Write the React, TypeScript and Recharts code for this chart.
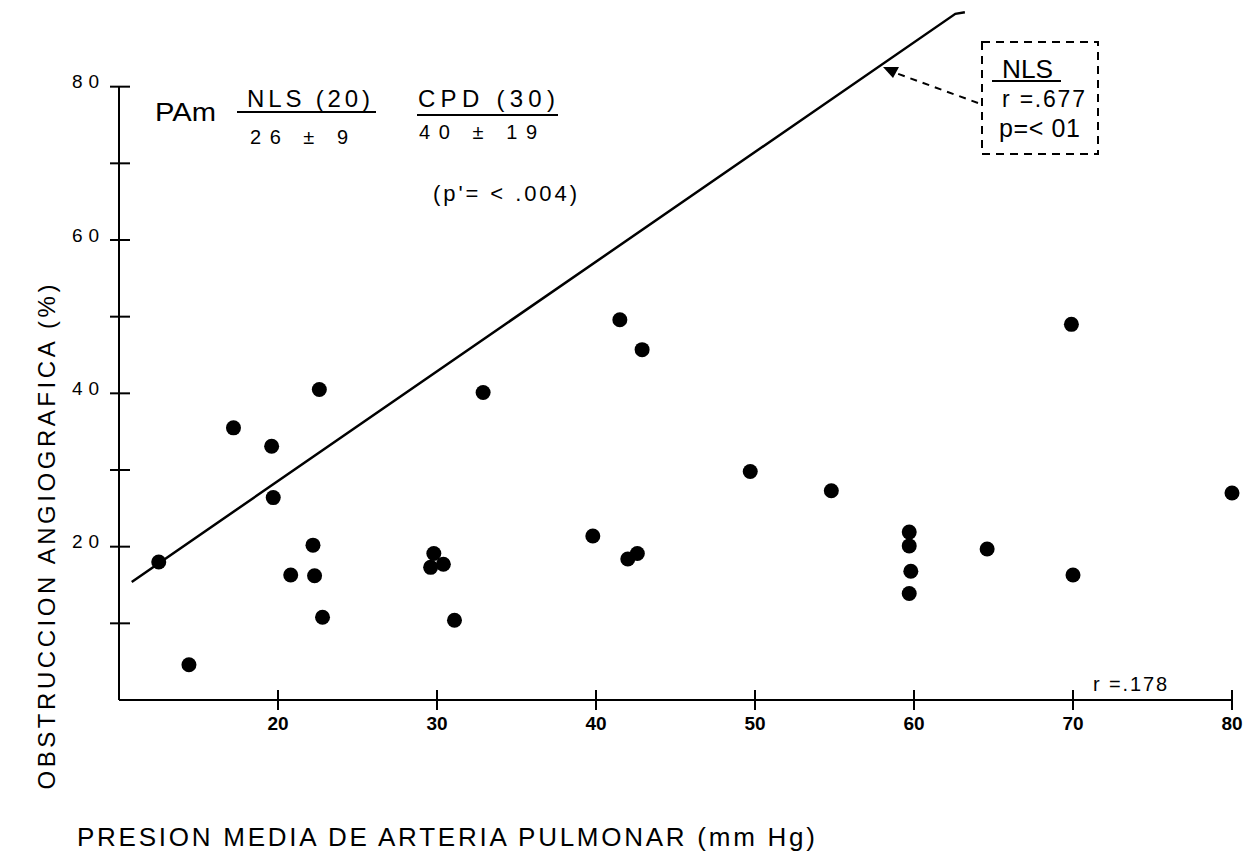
import React from 'react';
import { ComposedChart, Scatter, XAxis, YAxis, ReferenceLine } from 'recharts';

// mean pulmonary artery pressure (mm Hg) vs angiographic obstruction (%)
const pamX = [
  12.5, 14.4, 17.2, 19.6, 19.7, 20.8, 22.2, 22.3, 22.6, 22.8,
  29.8, 29.6, 30.4, 31.1, 32.9, 39.8, 41.5, 42.0, 42.6, 42.9,
  49.7, 54.8, 59.7, 59.7, 59.8, 59.7, 64.6, 69.9, 70.0, 80.0,
];
const obstrY = [
  18.0, 4.6, 35.5, 33.1, 26.4, 16.3, 20.2, 16.2, 40.5, 10.8,
  19.1, 17.3, 17.7, 10.4, 40.1, 21.4, 49.6, 18.4, 19.1, 45.7,
  29.8, 27.3, 21.9, 20.1, 16.8, 13.9, 19.7, 49.0, 16.3, 27.0,
];

// NLS regression line (hand drawn, with the small hook at its top)
const nlsLineX = [10.8, 62.6, 63.2];
const nlsLineY = [15.4, 89.5, 89.7];

const xTicks = [20, 30, 40, 50, 60, 70, 80];
const yTicks = [10, 20, 30, 40, 50, 60, 70, 80];
const yLabelled = [20, 40, 60, 80];

const FONT = "'Liberation Sans', Arial, sans-serif";

const points = pamX.map((x, i) => ({ x, y: obstrY[i] }));
const nlsLine = nlsLineX.map((x, i) => ({ x, y: nlsLineY[i] }));

const Dot = (props: any) => <circle cx={props.cx} cy={props.cy} r={7.5} fill="#000" />;

const YTick = (props: any) => {
  const { x, y, payload } = props;
  const v = payload.value;
  return (
    <g>
      <line x1={x - 9} x2={x + 11} y1={y} y2={y} stroke="#000" strokeWidth={2} />
      {yLabelled.includes(v) && (
        <text x={x - 47} y={y - 5} dominantBaseline="central" fontSize={19} textLength={27} lengthAdjust="spacing" fontFamily={FONT} fill="#000">
          {v}
        </text>
      )}
    </g>
  );
};

const XTick = (props: any) => {
  const { x, y, payload } = props;
  return (
    <g>
      <line x1={x} x2={x} y1={y - 10} y2={y + 10} stroke="#000" strokeWidth={2} />
      <text x={x} y={y + 30} textAnchor="middle" fontSize={19} fontWeight="bold" fontFamily={FONT} fill="#000">
        {payload.value}
      </text>
    </g>
  );
};

const Annotations = () => (
  <svg width={1243} height={862} style={{ position: 'absolute', left: 0, top: 0, pointerEvents: 'none' }} fontFamily={FONT} fill="#000">
    <text x={155} y={121} fontSize={25} textLength={61} lengthAdjust="spacingAndGlyphs">PAm</text>
    <text x={247} y={107} fontSize={24} textLength={123} lengthAdjust="spacing">NLS (20)</text>
    <line x1={237} x2={376} y1={112} y2={112} stroke="#000" strokeWidth={2} />
    <text x={250} y={144} fontSize={20} textLength={98} lengthAdjust="spacing">26 ± 9</text>
    <text x={418} y={107} fontSize={24} textLength={137} lengthAdjust="spacing">CPD (30)</text>
    <line x1={417} x2={558} y1={115} y2={115} stroke="#000" strokeWidth={2} />
    <text x={419} y={139} fontSize={20} textLength={118} lengthAdjust="spacing">40 ± 19</text>
    <text x={433} y={201} fontSize={22} textLength={144} lengthAdjust="spacing">(p'= &lt; .004)</text>

    <rect x={982} y={42} width={116} height={112} fill="none" stroke="#000" strokeWidth={2} strokeDasharray="8 6" />
    <text x={1002} y={78} fontSize={25} textLength={51} lengthAdjust="spacingAndGlyphs">NLS</text>
    <line x1={992} x2={1061} y1={81} y2={81} stroke="#000" strokeWidth={2} />
    <text x={1002} y={107} fontSize={23} textLength={83} lengthAdjust="spacing">r =.677</text>
    <text x={999} y={137} fontSize={25} textLength={81} lengthAdjust="spacing">p=&lt; 01</text>
    <line x1={978} y1={103} x2={893} y2={72} stroke="#000" strokeWidth={2} strokeDasharray="7 6" />
    <polygon points="883,67 899,67 893,78" fill="#000" />

    <text x={1093} y={691} fontSize={20} textLength={74} lengthAdjust="spacing">r =.178</text>

    <text x={77} y={846} fontSize={26} textLength={738} lengthAdjust="spacing">PRESION MEDIA DE ARTERIA PULMONAR (mm Hg)</text>
    <text transform="translate(55,537) rotate(-90)" textAnchor="middle" fontSize={24} textLength={505} lengthAdjust="spacing">
      OBSTRUCCION ANGIOGRAFICA (%)
    </text>
  </svg>
);

export default function App() {
  return (
    <div style={{ position: 'absolute', left: 0, top: 0, width: 1243, height: 862, background: '#fff' }}>
      <ComposedChart width={1243} height={862} margin={{ top: 10, right: 11, bottom: 102, left: 59 }}>
        <XAxis
          type="number"
          dataKey="x"
          domain={[10, 80]}
          ticks={xTicks}
          interval={0}
          tickSize={0}
          tickMargin={0}
          tickLine={false}
          tick={<XTick />}
          axisLine={{ stroke: '#000', strokeWidth: 2 }}
          height={60}
        />
        <YAxis
          type="number"
          dataKey="y"
          domain={[0, 90]}
          ticks={yTicks}
          interval={0}
          tickSize={0}
          tickMargin={0}
          tickLine={false}
          tick={<YTick />}
          axisLine={false}
          width={60}
        />
        <ReferenceLine segment={[{ x: 10, y: 0 }, { x: 10, y: 80 }]} stroke="#000" strokeWidth={2} />
        <Scatter
          data={nlsLine}
          line={{ stroke: '#000', strokeWidth: 2.5 }}
          lineType="joint"
          shape={() => <g />}
          isAnimationActive={false}
        />
        <Scatter data={points} shape={<Dot />} isAnimationActive={false} />
      </ComposedChart>
      <Annotations />
    </div>
  );
}
